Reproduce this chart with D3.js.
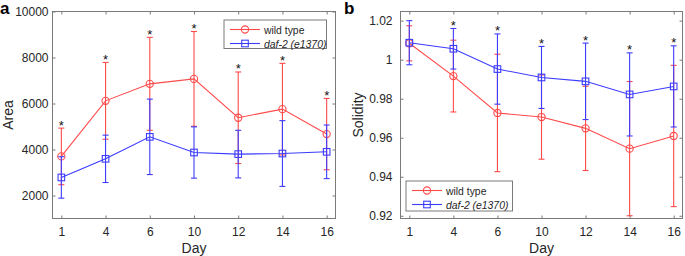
<!DOCTYPE html>
<html>
<head>
<meta charset="utf-8">
<script src="https://cdn.jsdelivr.net/npm/d3@7"></script>
<style>
  body { margin: 0; background: #fff; }
  svg { display: block; font-family: "Liberation Sans", Arial, sans-serif; }
</style>
</head>
<body>
<svg id="chart" width="685" height="256"></svg>
<script>
// ---- data ----
const days = ["1", "4", "6", "10", "12", "14", "16"];
const seriesNames = ["wild type", "daf-2 (e1370)"];

const areaWT = [3700, 6115, 6855, 7070, 5380, 5755, 4670];
const areaWTsd = [1230, 1670, 2020, 2060, 1990, 1990, 1550];
const areaDaf = [2785, 3595, 4550, 3870, 3800, 3825, 3900];
const areaDafsd = [900, 1030, 1640, 1115, 1035, 1430, 1165];
const areaSig = [1, 1, 1, 1, 1, 1, 1];
const areaTicks = [2000, 4000, 6000, 8000, 10000];

const solWT = [1.0084, 0.9916, 0.9727, 0.9706, 0.9648, 0.9544, 0.9609];
const solWTsd = [0.0090, 0.0184, 0.0301, 0.0216, 0.0216, 0.0344, 0.0362];
const solDaf = [1.0087, 1.0056, 0.9952, 0.9909, 0.9889, 0.9822, 0.9863];
const solDafsd = [0.0113, 0.0104, 0.0180, 0.0159, 0.0196, 0.0213, 0.0208];
const solSig = [0, 1, 1, 1, 1, 1, 1];
const solTicks = [0.92, 0.94, 0.96, 0.98, 1, 1.02];

// ---- style ----
const RED = "#ff4a4a";
const BLUE = "#3c3cff";
const AXIS = "#7a7a7a";
const TEXT = "#262626";

const svg = d3.select("#chart");

function drawPanel(cfg) {
  const g = svg.append("g");
  const x = d3.scaleLinear().domain([0.8, 7.2]).range([cfg.left, cfg.right]);
  const y = d3.scaleLinear().domain(cfg.ydomain).range([cfg.bottom, cfg.top]);
  const idx = days.map((d, i) => i + 1);

  // axes
  const ax = g.append("g").attr("transform", `translate(0,${cfg.bottom})`)
    .call(d3.axisBottom(x).tickValues(idx).tickFormat(i => days[i - 1]).tickSizeInner(-3).tickSizeOuter(0).tickPadding(9));
  const ay = g.append("g").attr("transform", `translate(${cfg.left},0)`)
    .call(d3.axisLeft(y).tickValues(cfg.ticks).tickFormat(cfg.fmt).tickSizeInner(-3).tickSizeOuter(0).tickPadding(cfg.ypad));
  const at = g.append("g").attr("transform", `translate(0,${cfg.top})`)
    .call(d3.axisTop(x).tickValues(idx).tickFormat("").tickSizeInner(-3).tickSizeOuter(0));
  const ar = g.append("g").attr("transform", `translate(${cfg.right},0)`)
    .call(d3.axisRight(y).tickValues(cfg.ticks).tickFormat("").tickSizeInner(-3).tickSizeOuter(0));
  [ax, ay, at, ar].forEach(a => {
    a.select(".domain").remove();
    a.selectAll("line").attr("stroke", AXIS);
    a.selectAll("text").attr("fill", TEXT).style("font-size", "12px");
  });
  g.append("rect").attr("x", cfg.left).attr("y", cfg.top)
    .attr("width", cfg.right - cfg.left).attr("height", cfg.bottom - cfg.top)
    .attr("fill", "none").attr("stroke", AXIS).attr("stroke-width", 1);

  const series = [
    { m: cfg.wt, sd: cfg.wtsd, color: RED, marker: "circle" },
    { m: cfg.daf, sd: cfg.dafsd, color: BLUE, marker: "square" }
  ];

  series.forEach(s => {
    const sg = g.append("g");
    s.m.forEach((v, i) => {
      const cx = x(i + 1);
      const y1 = y(v + s.sd[i]), y0 = y(v - s.sd[i]);
      sg.append("line").attr("x1", cx).attr("x2", cx).attr("y1", y1).attr("y2", y0)
        .attr("stroke", s.color).attr("stroke-width", 1.1);
      [y1, y0].forEach(yy => sg.append("line").attr("x1", cx - 3).attr("x2", cx + 3)
        .attr("y1", yy).attr("y2", yy).attr("stroke", s.color).attr("stroke-width", 1.1));
    });
    sg.append("path").datum(s.m)
      .attr("d", d3.line().x((d, i) => x(i + 1)).y(d => y(d)))
      .attr("fill", "none").attr("stroke", s.color).attr("stroke-width", 1.1);
    s.m.forEach((v, i) => drawMarker(sg, s.marker, x(i + 1), y(v), s.color));
  });

  // significance stars
  cfg.sig.forEach((sgn, i) => {
    if (!sgn) return;
    const top = Math.min(y(cfg.wt[i] + cfg.wtsd[i]), y(cfg.daf[i] + cfg.dafsd[i]));
    g.append("text").attr("x", x(i + 1)).attr("y", top + 1.5)
      .attr("text-anchor", "middle").attr("fill", "#111")
      .style("font-size", "13px").text("*");
  });

  // axis titles
  g.append("text").attr("x", (cfg.left + cfg.right) / 2).attr("y", 253)
    .attr("text-anchor", "middle").attr("fill", TEXT).style("font-size", "14px").text("Day");
  g.append("text").attr("transform", `translate(${cfg.ytitleX},${(cfg.top + cfg.bottom) / 2}) rotate(-90)`)
    .attr("text-anchor", "middle").attr("fill", TEXT).style("font-size", "14px").text(cfg.ytitle);

  // panel label
  g.append("text").attr("x", cfg.labelX).attr("y", 14).attr("fill", "#000")
    .style("font-size", "17px").style("font-weight", "bold").text(cfg.label);

  // legend
  const L = cfg.legend;
  g.append("rect").attr("x", L.x).attr("y", L.y).attr("width", L.w).attr("height", L.h)
    .attr("fill", "#fff").attr("stroke", AXIS).attr("stroke-width", 1);
  series.forEach((s, k) => {
    const ly = L.y + L.row0 + k * 14;
    g.append("line").attr("x1", L.x + 6).attr("x2", L.x + 36).attr("y1", ly).attr("y2", ly)
      .attr("stroke", s.color).attr("stroke-width", 1.1);
    drawMarker(g, s.marker, L.x + 21, ly, s.color);
    g.append("text").attr("x", L.x + 40).attr("y", ly + 4).attr("fill", TEXT)
      .style("font-size", "10.4px").style("font-style", k === 1 ? "italic" : "normal")
      .text(seriesNames[k]);
  });
}

function drawMarker(g, type, cx, cy, color) {
  if (type === "circle") {
    g.append("circle").attr("cx", cx).attr("cy", cy).attr("r", 3.6)
      .attr("fill", "none").attr("stroke", color).attr("stroke-width", 1.1);
  } else {
    g.append("rect").attr("x", cx - 3.3).attr("y", cy - 3.3).attr("width", 6.6).attr("height", 6.6)
      .attr("fill", "none").attr("stroke", color).attr("stroke-width", 1.1);
  }
}

drawPanel({
  left: 52.5, right: 335.5, top: 11.5, bottom: 218.5,
  ydomain: [1000, 10000], ticks: areaTicks, fmt: d3.format("d"), ypad: 4,
  wt: areaWT, wtsd: areaWTsd, daf: areaDaf, dafsd: areaDafsd, sig: areaSig,
  ytitle: "Area", ytitleX: 13, label: "a", labelX: 0,
  legend: { x: 224, y: 20, w: 102.5, h: 28.5, row0: 9.5 }
});

drawPanel({
  left: 400.5, right: 682.5, top: 11.5, bottom: 218.5,
  ydomain: [0.9186, 1.0247], ticks: solTicks, fmt: d => d3.format("")(+d.toFixed(2)), ypad: 8,
  wt: solWT, wtsd: solWTsd, daf: solDaf, dafsd: solDafsd, sig: solSig,
  ytitle: "Solidity", ytitleX: 363, label: "b", labelX: 344,
  legend: { x: 406, y: 181, w: 106.5, h: 30, row0: 9.5 }
});
</script>
</body>
</html>
